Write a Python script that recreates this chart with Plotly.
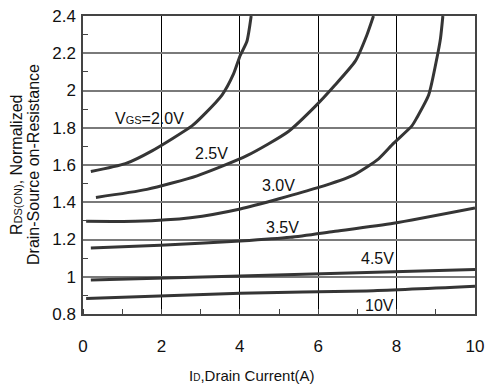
import plotly.graph_objects as go

# I_D (A) and normalized R_DS(ON) for each V_GS curve
id_20 = [0.2, 1.08, 1.76, 2.78, 3.08, 3.55, 3.84, 4.01, 4.18, 4.29]
r_20 = [1.565, 1.607, 1.676, 1.81, 1.869, 1.977, 2.089, 2.188, 2.263, 2.40]

id_25 = [0.33, 1.63, 2.91, 4.18, 5.24, 5.93, 6.39, 6.95, 7.24, 7.41]
r_25 = [1.426, 1.469, 1.542, 1.65, 1.78, 1.916, 2.02, 2.159, 2.297, 2.40]

id_30 = [0.08, 1.33, 2.74, 4.01, 5.97, 6.9, 7.54, 7.92, 8.39, 8.52, 8.82, 9.03, 9.12, 9.18]
r_30 = [1.298, 1.298, 1.317, 1.364, 1.477, 1.546, 1.633, 1.716, 1.81, 1.855, 1.977, 2.176, 2.28, 2.40]

id_35 = [0.2, 1.97, 4.01, 5.29, 6.39, 7.92, 10.0]
r_35 = [1.155, 1.169, 1.192, 1.212, 1.243, 1.287, 1.369]

id_45 = [0.2, 4.01, 10.0]
r_45 = [0.982, 1.004, 1.039]

id_10 = [0.08, 4.01, 7.24, 10.0]
r_10 = [0.883, 0.912, 0.924, 0.949]

curve_labels = ["V<span style='font-size:11px'>GS</span>=2.0V", "2.5V", "3.0V", "3.5V", "4.5V", "10V"]
label_x = [1.69, 3.27, 4.98, 5.08, 7.51, 7.56]
label_y = [1.848, 1.66, 1.489, 1.265, 1.098, 0.848]

x_ticks = [0, 2, 4, 6, 8, 10]
y_ticks = [0.8, 1.0, 1.2, 1.4, 1.6, 1.8, 2.0, 2.2, 2.4]
y_tick_text = ["0.8", "1", "1.2", "1.4", "1.6", "1.8", "2", "2.2", "2.4"]

x_title = "I<span style='font-size:10px'>D</span>,Drain Current(A)"
y_title_1 = "R<span style='font-size:11px'>DS(ON)</span>, Normalized"
y_title_2 = "Drain-Source on-Resistance"

FONT = "Liberation Sans, Arial, sans-serif"
fig = go.Figure()
for xs, ys in [(id_20, r_20), (id_25, r_25), (id_30, r_30), (id_35, r_35), (id_45, r_45), (id_10, r_10)]:
    fig.add_trace(go.Scatter(x=xs, y=ys, mode="lines",
                             line=dict(color="#353535", width=3, shape="spline", smoothing=0.6),
                             showlegend=False, hoverinfo="skip"))

for t, lx, ly in zip(curve_labels, label_x, label_y):
    fig.add_annotation(x=lx, y=ly, text=t, showarrow=False,
                       font=dict(family=FONT, size=16, color="#111"), xanchor="center", yanchor="middle")

fig.add_annotation(xref="paper", yref="paper", x=0.43, y=-0.205, text=x_title, showarrow=False,
                   font=dict(family=FONT, size=15, color="#111"), xanchor="center", yanchor="middle")
fig.add_annotation(xref="paper", yref="paper", x=0, y=0.5, xshift=-67, text=y_title_1, textangle=-90,
                   showarrow=False, font=dict(family=FONT, size=16, color="#111"),
                   xanchor="center", yanchor="middle")
fig.add_annotation(xref="paper", yref="paper", x=0, y=0.5, xshift=-50, text=y_title_2, textangle=-90,
                   showarrow=False, font=dict(family=FONT, size=16, color="#111"),
                   xanchor="center", yanchor="middle")

fig.update_layout(
    width=494, height=391,
    margin=dict(l=83, r=19, t=7, b=77),
    paper_bgcolor="white", plot_bgcolor="white",
    font=dict(family=FONT, size=17, color="#111"),
)
fig.update_xaxes(range=[0, 10], tickvals=x_ticks, ticks="", showgrid=True, gridcolor="#000", gridwidth=1,
                 showline=True, linecolor="#444", linewidth=1.5, mirror=True, zeroline=False,
                 ticklabelstandoff=16, ticklabeloverflow="allow",
                 minor=dict(ticks="inside", ticklen=5, tickcolor="#444", dtick=1, tick0=1, showgrid=False))
fig.update_yaxes(range=[0.8, 2.4], tickvals=y_ticks, ticktext=y_tick_text, ticks="", showgrid=True,
                 gridcolor="#7a7a7a", gridwidth=1.5,
                 showline=True, linecolor="#444", linewidth=1.5, mirror=True, zeroline=False,
                 ticklabelstandoff=2, ticklabeloverflow="allow",
                 minor=dict(ticks="inside", ticklen=5, tickcolor="#444", dtick=0.2, tick0=0.9, showgrid=False))

fig.write_html("out.html")
